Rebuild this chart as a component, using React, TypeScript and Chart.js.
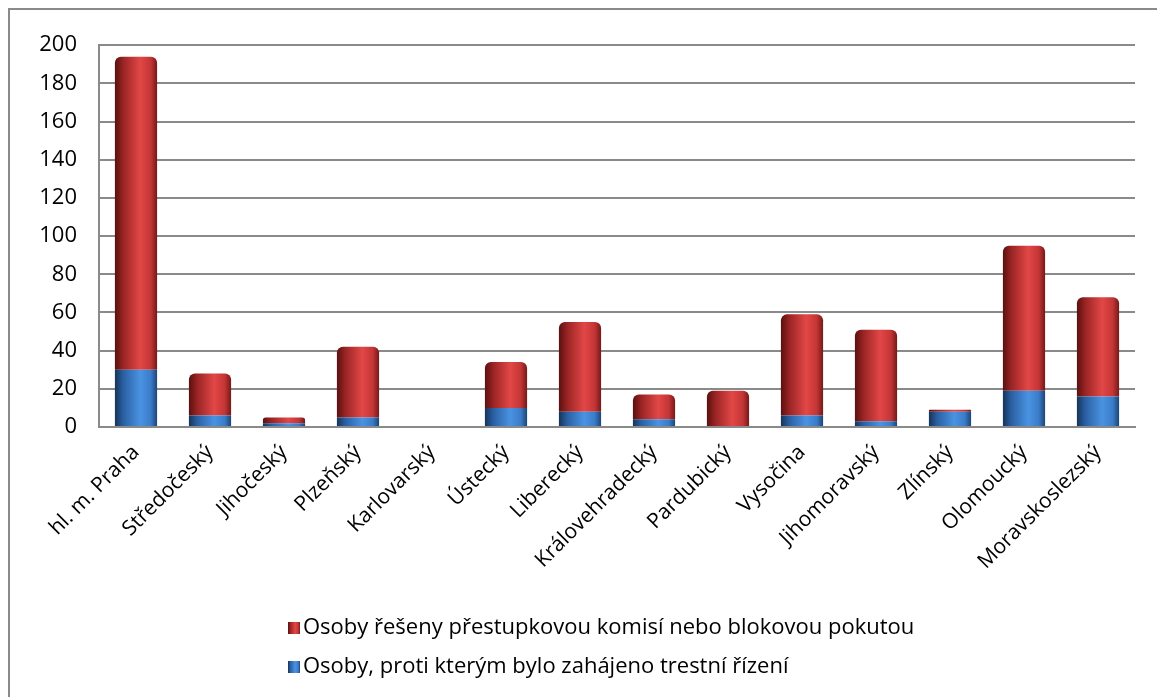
import React, { useEffect, useRef } from "react";
import { Chart, registerables } from "chart.js";

Chart.register(...registerables);

const regions = [
  "hl. m. Praha",
  "Středočeský",
  "Jihočeský",
  "Plzeňský",
  "Karlovarský",
  "Ústecký",
  "Liberecký",
  "Královehradecký",
  "Pardubický",
  "Vysočina",
  "Jihomoravský",
  "Zlínský",
  "Olomoucký",
  "Moravskoslezský",
];

const criminalProceedings = [30, 6, 2, 5, 0, 10, 8, 4, 0, 6, 3, 8, 19, 16];
const misdemeanourFines = [164, 22, 3, 37, 0, 24, 47, 13, 19, 53, 48, 1, 76, 52];

const labelRed = "Osoby řešeny přestupkovou komisí nebo blokovou pokutou";
const labelBlue = "Osoby, proti kterým bylo zahájeno trestní řízení";

const yTicks = [0, 20, 40, 60, 80, 100, 120, 140, 160, 180, 200];

const FONT = "'Open Sans', 'DejaVu Sans', sans-serif";
const GRID = "#8a8a8a";

const palettes: Record<number, string[]> = {
  0: ["#163459", "#2a60a3", "#4a93e2", "#3a7cc8", "#1c4577"],
  1: ["#5a1010", "#9a2424", "#e24747", "#c43535", "#761919"],
};

function cylGradient(ctx: CanvasRenderingContext2D, x0: number, x1: number, pal: string[]) {
  const g = ctx.createLinearGradient(x0, 0, x1, 0);
  g.addColorStop(0, pal[0]);
  g.addColorStop(0.2, pal[1]);
  g.addColorStop(0.6, pal[2]);
  g.addColorStop(0.85, pal[3]);
  g.addColorStop(1, pal[4]);
  return g;
}

const cylinderPlugin = {
  id: "cylinder",
  beforeDatasetsDraw(chart: any) {
    const ctx = chart.ctx;
    chart.data.datasets.forEach((_ds: any, di: number) => {
      const meta = chart.getDatasetMeta(di);
      const pal = palettes[di];
      meta.data.forEach((el: any) => {
        const w = el.width;
        if (!w) return;
        el.options = { ...el.options, backgroundColor: cylGradient(ctx, el.x - w / 2, el.x + w / 2, pal) };
      });
    });
  },
};

// legend drawn from dataset labels, listed in reverse dataset order, left aligned rows
const legendPlugin = {
  id: "stackLegend",
  afterDraw(chart: any) {
    const ctx = chart.ctx;
    const boxX = 278;
    const boxSize = 12;
    const rowY = [618, 657];
    const order = chart.data.datasets.map((_d: any, i: number) => i).reverse();
    ctx.save();
    ctx.font = `22px ${FONT}`;
    ctx.textBaseline = "middle";
    ctx.textAlign = "left";
    order.forEach((di: number, row: number) => {
      const y = rowY[row];
      const pal = palettes[di];
      ctx.fillStyle = cylGradient(ctx, boxX, boxX + boxSize, pal);
      ctx.fillRect(boxX, y - boxSize / 2, boxSize, boxSize);
      ctx.fillStyle = "#000";
      ctx.fillText(chart.data.datasets[di].label, boxX + boxSize + 3, y);
    });
    ctx.restore();
  },
};

export default function App() {
  const canvasRef = useRef<HTMLCanvasElement | null>(null);

  useEffect(() => {
    document.body.style.overflow = "hidden";
    const canvas = canvasRef.current;
    if (!canvas) return;
    const chart = new Chart(canvas, {
      type: "bar",
      data: {
        labels: regions,
        datasets: [
          {
            label: labelBlue,
            data: criminalProceedings,
            backgroundColor: "#3a7cc8",
            borderWidth: 0,
            barPercentage: 0.57,
            categoryPercentage: 1,
          },
          {
            label: labelRed,
            data: misdemeanourFines,
            backgroundColor: "#c43535",
            borderWidth: 0,
            borderRadius: { topLeft: 6, topRight: 6, bottomLeft: 0, bottomRight: 0 },
            borderSkipped: false,
            barPercentage: 0.57,
            categoryPercentage: 1,
          },
        ],
      },
      options: {
        animation: false,
        responsive: false,
        maintainAspectRatio: false,
        layout: { padding: { top: 31, right: 30, left: 0, bottom: 98 } },
        plugins: {
          tooltip: { enabled: false },
          legend: { display: false },
        },
        scales: {
          x: {
            stacked: true,
            grid: { display: false, drawTicks: false },
            border: { display: true, color: GRID, width: 2 },
            ticks: {
              font: { family: FONT, size: 21 },
              color: "#000",
              minRotation: 45,
              maxRotation: 45,
              autoSkip: false,
              padding: 13,
            },
            afterFit(scale: any) {
              scale.height = 172;
            },
          },
          y: {
            stacked: true,
            min: 0,
            max: 200,
            afterBuildTicks(scale: any) {
              scale.ticks = yTicks.map((v) => ({ value: v }));
            },
            grid: { color: GRID, lineWidth: 2, drawTicks: false },
            border: { display: true, color: GRID, width: 2 },
            ticks: {
              font: { family: FONT, size: 22 },
              color: "#000",
              padding: 22,
            },
            afterFit(scale: any) {
              scale.width = 89;
            },
          },
        },
      },
      plugins: [cylinderPlugin, legendPlugin],
    });
    return () => chart.destroy();
  }, []);

  return (
    <div
      style={{
        width: 1157,
        height: 689,
        borderLeft: "2px solid #8a8a8a",
        borderTop: "2px solid #8a8a8a",
        boxSizing: "border-box",
        background: "#fff",
      }}
    >
      <canvas ref={canvasRef} width={1155} height={687} style={{ display: "block" }} />
    </div>
  );
}
